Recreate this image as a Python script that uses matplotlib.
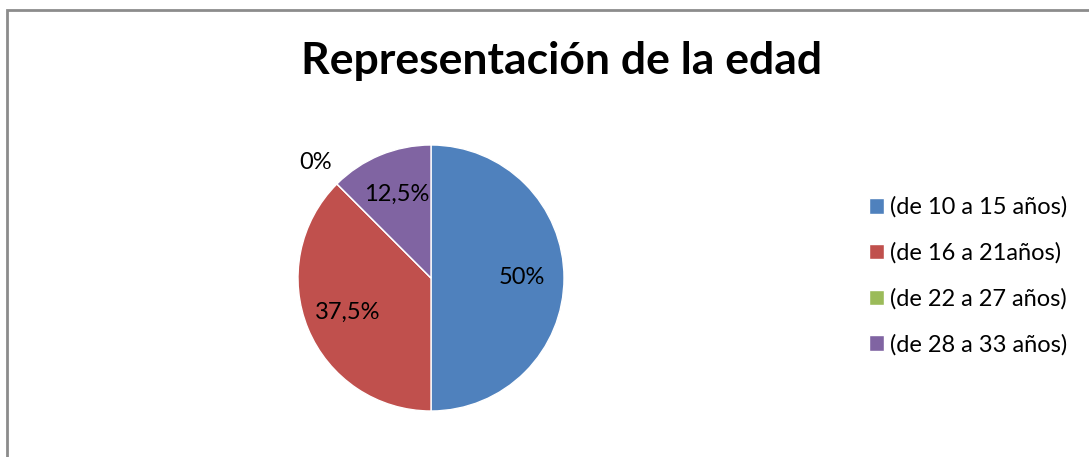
import matplotlib.pyplot as plt
from matplotlib.patches import Rectangle
import numpy as np

plt.rcParams['font.family'] = ['Lato', 'DejaVu Sans']

categories = ['(de 10 a 15 años)', '(de 16 a 21años)', '(de 22 a 27 años)', '(de 28 a 33 años)']
values = [50, 37.5, 0, 12.5]
colors = ['#4F81BD', '#C0504D', '#9BBB59', '#8064A2']

W, H = 1089, 457
fig = plt.figure(figsize=(W / 100, H / 100), dpi=100)

# frame of the chart area (cut off at right and bottom like the original)
fig.add_artist(Rectangle((7 / W, -0.2), 1.2, 1 - 10.5 / H + 0.2, transform=fig.transFigure,
                         fill=False, edgecolor='#8c8c8c', lw=2))

fig.text(562 / W, 1 - 61 / H, 'Representación de la edad', ha='center', va='center',
         fontsize=32, fontweight='bold')

cx, cy, r = 431, 278, 133
ax = fig.add_axes([(cx - r) / W, (H - cy - r) / H, 2 * r / W, 2 * r / H])

def fmt(p):
    return ('%g%%' % round(p, 1)).replace('.', ',')

wedges, texts, autotexts = ax.pie(values, colors=colors, startangle=90, counterclock=False,
                                  autopct=fmt, pctdistance=0.68, radius=1,
                                  wedgeprops=dict(edgecolor='white', linewidth=1),
                                  textprops=dict(fontsize=17, color='black'))
ax.set_xlim(-1, 1)
ax.set_ylim(-1, 1)
ax.set_aspect('equal')
ax.axis('off')

# zero-value slice: label sits outside the pie
for w, t, v in zip(wedges, autotexts, values):
    if v == 0:
        ang = np.deg2rad((w.theta1 + w.theta2) / 2)
        t.set_position((1.23 * np.cos(ang), 1.23 * np.sin(ang)))

leg = fig.legend(wedges, categories, loc='center left', bbox_to_anchor=(857 / W, 1 - 276 / H),
                 frameon=False, fontsize=17, handlelength=0.65, handleheight=0.65,
                 handletextpad=0.25, labelspacing=1.03, borderpad=0)

fig.savefig('out.png', dpi=100)
